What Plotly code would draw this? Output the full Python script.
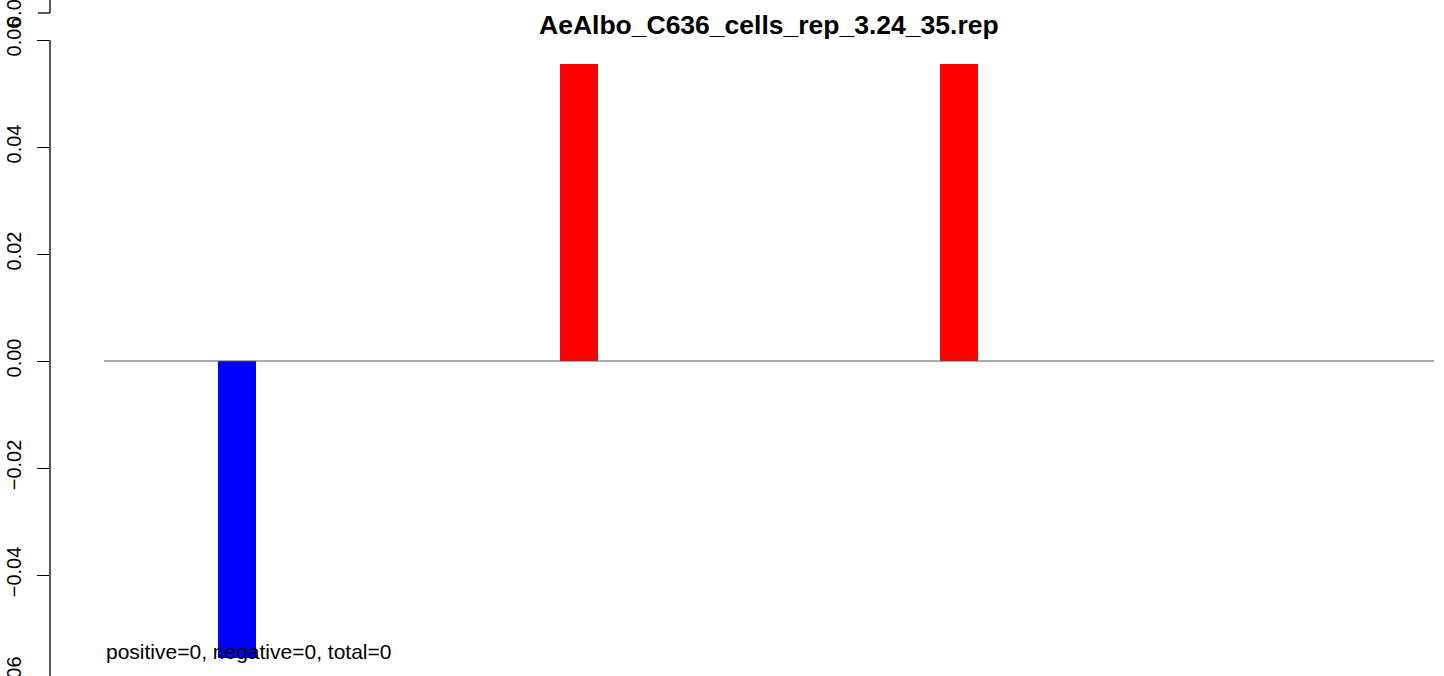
import plotly.graph_objects as go

# ---- data ----
title_text = "AeAlbo_C636_cells_rep_3.24_35.rep"
n_positions = 35
bar_values = [0.0] * n_positions
bar_values[3] = -0.0556
bar_values[12] = 0.0556
bar_values[22] = 0.0556
y_tick_vals = [-0.06, -0.04, -0.02, 0.00, 0.02, 0.04, 0.06]
y_tick_text = ["\u22120.06", "\u22120.04", "\u22120.02", "0.00", "0.02", "0.04", "0.06"]
summary_text = "positive=0, negative=0, total=0"

W, H = 1444, 676
ML = 50
px_per_unit = 38.0
x0_px = 104  # pixel of x=0
x_range = [(ML - x0_px) / px_per_unit, (W - x0_px) / px_per_unit]
ppy = 321 / 0.06
zero_px = 361
y_range = [-(H - zero_px) / ppy, zero_px / ppy]

xs = [i + 0.5 for i in range(n_positions)]
colors = ["#FF0000" if v > 0 else ("#0000FF" if v < 0 else "rgba(0,0,0,0)") for v in bar_values]

fig = go.Figure()
fig.add_trace(go.Bar(x=xs, y=bar_values, width=1.0, marker=dict(color=colors, line=dict(width=0)),
                     showlegend=False, hoverinfo="x+y"))

font = "Liberation Sans, Arial, sans-serif"
fig.update_layout(
    width=W, height=H,
    margin=dict(l=ML, r=0, t=0, b=0),
    paper_bgcolor="white", plot_bgcolor="white",
    font=dict(family=font, size=20, color="black"),
    xaxis=dict(range=x_range, visible=False, showgrid=False, zeroline=False),
    yaxis=dict(range=y_range, showgrid=False, zeroline=False, showline=False,
               tickmode="array", tickvals=y_tick_vals, ticktext=y_tick_text,
               ticks="outside", ticklen=12, tickwidth=1.3, tickcolor="black",
               tickangle=-90, tickfont=dict(family=font, size=20, color="black"),
               ticklabelstandoff=8, automargin=False),
    bargap=0,
)

shapes = []
shapes.append(dict(type="line", xref="paper", yref="y", x0=0, x1=0, y0=-0.06, y1=0.06,
                   line=dict(color="black", width=1.3)))
shapes.append(dict(type="line", xref="x", yref="y", x0=0, x1=n_positions, y0=0, y1=0,
                   line=dict(color="#555555", width=1)))
ytop = 1 - 13 / H
shapes.append(dict(type="line", xref="paper", yref="paper", x0=0, x1=0, y0=ytop, y1=1.01,
                   line=dict(color="black", width=1.3)))
shapes.append(dict(type="line", xref="paper", yref="paper", x0=-12 / (W - ML), x1=0, y0=ytop, y1=ytop,
                   line=dict(color="black", width=1.3)))
fig.update_layout(shapes=shapes)

lab_x = -(50 - 14) / (W - ML)
annotations = [
    dict(text="<b>" + title_text + "</b>", xref="x", yref="paper", x=n_positions / 2, y=1 - 25 / H,
         xanchor="center", yanchor="middle", showarrow=False, font=dict(family=font, size=26.5, color="black")),
    dict(text=summary_text, xref="x", yref="paper", x=0, y=1 - 651 / H,
         xanchor="left", yanchor="middle", showarrow=False, font=dict(family=font, size=21, color="black")),
    dict(text="0.0", xref="paper", yref="paper", x=lab_x, y=ytop, textangle=-90,
         xanchor="center", yanchor="middle", showarrow=False, font=dict(family=font, size=20, color="black")),
    dict(text="\u22120.06", xref="paper", yref="paper", x=lab_x, y=1 - 682 / H, textangle=-90,
         xanchor="center", yanchor="middle", showarrow=False, font=dict(family=font, size=20, color="black")),
]
fig.update_layout(annotations=annotations)

fig.write_html("out.html", config={"displayModeBar": False},
               post_script="document.body.style.margin='0';")
